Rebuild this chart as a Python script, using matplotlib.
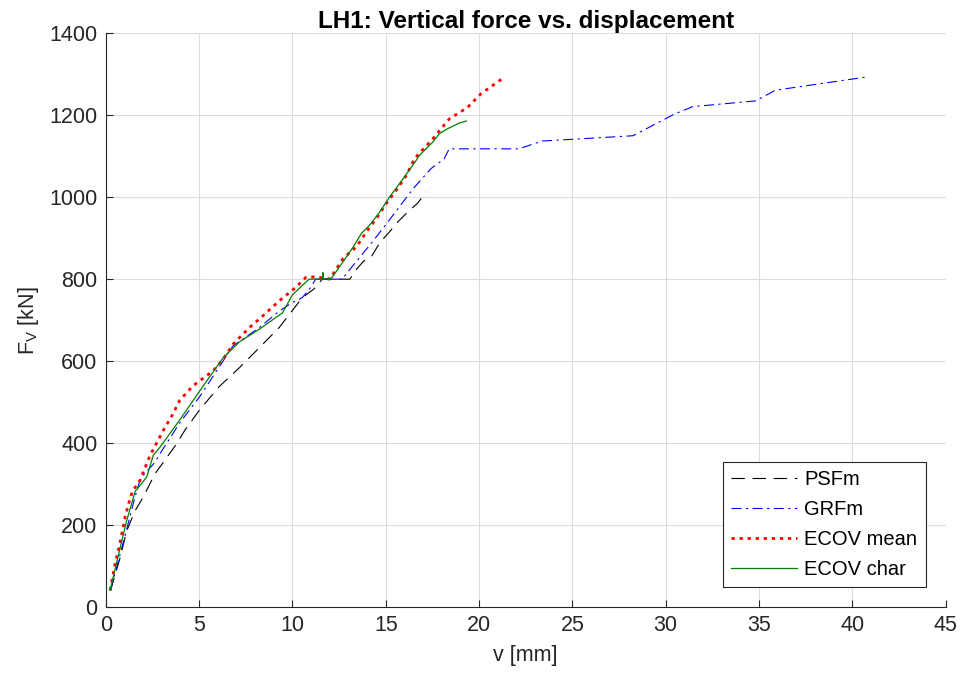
import matplotlib
matplotlib.use("Agg")
import matplotlib.pyplot as plt

# PSFm
psf_v = [0.25, 0.77, 1.12, 1.57, 2.0, 2.63, 3.08, 3.79, 4.23, 5.04, 6.1, 7.16, 8.23,
         9.29, 10.53, 11.15, 11.6, 13.08, 13.34, 13.79, 14.23, 14.68, 15.21, 15.65,
         16.18, 16.72, 17.16]
psf_f = [40, 121, 186, 235, 268, 325, 353, 398, 431, 482, 539, 584, 633,
         682, 755, 776, 800, 800, 819, 843, 855, 889, 916, 940,
         964, 986, 1013]

# GRFm
grf_v = [0.25, 1.03, 1.57, 1.83, 2.0, 2.63, 2.9, 3.97, 5.04, 6.81, 8.23, 9.29, 10.0,
         10.53, 10.98, 11.24, 12.66, 13.17, 14.23, 15.12, 16.27, 16.47, 17.43, 18.13,
         18.4, 22.13, 23.37, 28.25, 30.47, 31.45, 34.82, 35.88, 40.86]
grf_f = [40, 174, 270, 309, 321, 353, 374, 450, 514, 637, 682, 722, 743,
         755, 780, 800, 800, 829, 888, 940, 1009, 1021, 1070, 1094,
         1118, 1118, 1137, 1150, 1203, 1221, 1235, 1261, 1294]

# ECOV mean
ecm_v = [0.23, 0.5, 0.77, 1.03, 1.21, 1.42, 1.83, 2.37, 2.72, 3.08, 3.52, 3.97, 4.68,
         5.74, 6.28, 6.81, 7.7, 8.4, 9.29, 10.18, 10.71, 11.24, 12.0, 12.72, 13.43,
         13.97, 14.5, 15.03, 15.56, 16.1, 16.54, 17.51, 18.4, 19.38, 20.09, 20.71, 21.33]
ecm_f = [41, 106, 158, 219, 251, 282, 309, 370, 400, 431, 465, 505, 540,
         576, 604, 641, 682, 710, 747, 780, 804, 806, 800, 851, 879,
         916, 948, 985, 1017, 1053, 1094, 1142, 1191, 1219, 1252, 1272, 1292]

# ECOV char
ecc_v = [0.23, 0.77, 1.12, 1.57, 2.19, 2.54, 2.9, 3.97, 4.95, 6.28, 7.16, 8.23, 9.47,
         10.0, 10.89, 11.6, 11.63, 11.66, 12.1, 12.72, 13.26, 13.7, 14.14, 14.68,
         15.21, 15.74, 16.63, 16.8, 17.51, 17.87, 18.31, 18.94, 19.32]
ecc_f = [41, 145, 211, 282, 317, 370, 390, 457, 522, 608, 647, 678, 718,
         762, 800, 800, 816, 800, 803, 843, 879, 912, 932, 964,
         1001, 1033, 1090, 1102, 1134, 1155, 1167, 1181, 1186]

plt.rcParams['font.family'] = ['Liberation Sans', 'DejaVu Sans']

fig = plt.figure(figsize=(9.62, 6.79), dpi=100)
ax = fig.add_axes([0.110, 0.106, 0.873, 0.845])

ax.plot(psf_v, psf_f, color='black', lw=0.8, dashes=(12, 7), label='PSFm')
ax.plot(grf_v, grf_f, color='blue', lw=0.8, dashes=(9, 4, 2, 4), label='GRFm')
ax.plot(ecm_v, ecm_f, color='red', lw=2.0, dashes=(1.2, 1.7), label='ECOV mean')
ax.plot(ecc_v, ecc_f, color='green', lw=0.9, label='ECOV char')

ax.set_xlim(0, 45)
ax.set_ylim(0, 1400)
ax.set_xticks(range(0, 46, 5))
ax.set_yticks(range(0, 1401, 200))
ax.grid(True, color='#dcdcdc', lw=0.8)
ax.set_axisbelow(True)
ax.spines['top'].set_visible(False)
ax.spines['right'].set_visible(False)
for s in ('left', 'bottom'):
    ax.spines[s].set_color('#262626')
    ax.spines[s].set_linewidth(0.8)
ax.tick_params(direction='in', length=5, width=0.8, colors='#262626',
               labelsize=15.5, pad=6)

ax.set_xlabel('v [mm]', fontsize=15.5, color='#262626', labelpad=6)
ax.set_ylabel('F$_{\\mathregular{V}}$ [kN]', fontsize=15.5, color='#262626', labelpad=6)
ax.set_title('LH1: Vertical force vs. displacement', fontsize=17.5,
             fontweight='bold', pad=1)

leg = ax.legend(loc='lower right', fontsize=14.5, handlelength=3.3,
                fancybox=False, framealpha=1, edgecolor='#262626',
                borderaxespad=1.0, labelspacing=0.55, handletextpad=0.35,
                borderpad=0.4)
leg.get_frame().set_linewidth(0.8)

fig.savefig('out.png', dpi=100)
